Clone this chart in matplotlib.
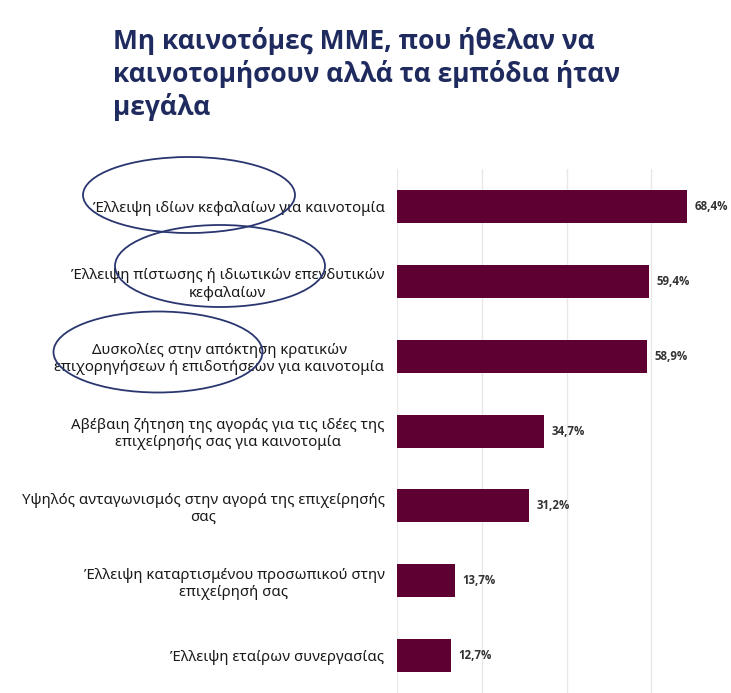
import matplotlib.pyplot as plt
from matplotlib.patches import Ellipse

plt.rcParams['font.family'] = ['Noto Sans', 'DejaVu Sans']

labels = [
    "Έλλειψη ιδίων κεφαλαίων για καινοτομία",
    "Έλλειψη πίστωσης ή ιδιωτικών επενδυτικών\nκεφαλαίων",
    "Δυσκολίες στην απόκτηση κρατικών\nεπιχορηγήσεων ή επιδοτήσεων για καινοτομία",
    "Αβέβαιη ζήτηση της αγοράς για τις ιδέες της\nεπιχείρησής σας για καινοτομία",
    "Υψηλός ανταγωνισμός στην αγορά της επιχείρησής\nσας",
    "Έλλειψη καταρτισμένου προσωπικού στην\nεπιχείρησή σας",
    "Έλλειψη εταίρων συνεργασίας",
]
values = [68.4, 59.4, 58.9, 34.7, 31.2, 13.7, 12.7]
title = "Μη καινοτόμες ΜΜΕ, που ήθελαν να\nκαινοτομήσουν αλλά τα εμπόδια ήταν\nμεγάλα"

bar_color = "#5F0032"
navy = "#1F2B5E"
bold_font = ['Open Sans', 'DejaVu Sans']

fig = plt.figure(figsize=(7.31, 6.93), dpi=100)
ax = fig.add_axes([397 / 731, 0.0, 339 / 731, 0.756])

y = list(range(len(labels)))
ax.barh(y, values, height=0.44, color=bar_color, zorder=3)
for yi, v in zip(y, values):
    ax.text(v + 1.8, yi, f"{v:.1f}%".replace(".", ","), va="center", ha="left",
            fontsize=8.3, fontweight="bold", family=bold_font, color="#333333")

ax.set_xlim(0, 80)
ax.set_ylim(len(labels) - 0.5, -0.5)
ax.set_xticks([0, 20, 40, 60, 80])
ax.set_xticklabels([])
ax.grid(axis="x", color="#E8E8E8", linewidth=1, zorder=0)
ax.set_yticks(y)
ax.set_yticklabels(labels, fontsize=10.8, color="#1A1A1A", linespacing=1.2)
for lbl in ax.get_yticklabels():
    lbl.set_multialignment("center")
ax.tick_params(axis="both", length=0, pad=9)
for s in ax.spines.values():
    s.set_visible(False)

fig.text(113 / 731, 1 - 27 / 693, title, ha="left", va="top", fontsize=19,
         fontweight="bold", family=bold_font, color=navy, linespacing=1.22)

# hand-drawn style circles around the top three obstacles
ov = fig.add_axes([0, 0, 1, 1], zorder=5)
ov.set_xlim(0, 731)
ov.set_ylim(693, 0)
ov.axis("off")
for cx, cy, w, h in [(189, 195, 212, 76), (220, 266, 210, 82), (158, 352, 209, 81)]:
    ov.add_patch(Ellipse((cx, cy), w, h, fill=False, edgecolor="#2A3670", linewidth=1.3))

fig.savefig("out.png", dpi=100)
